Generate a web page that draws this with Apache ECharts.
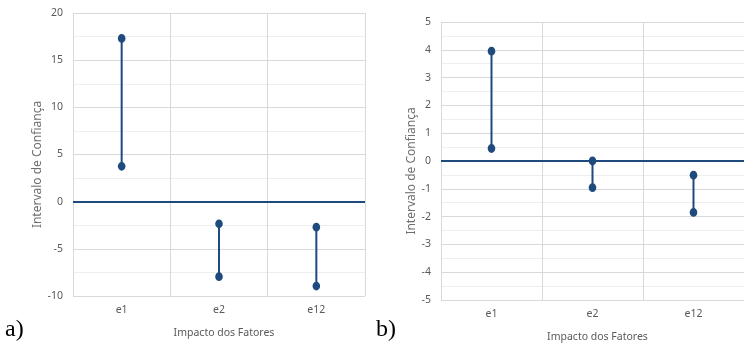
<!DOCTYPE html>
<html>
<head>
<meta charset="utf-8">
<script src="https://cdn.jsdelivr.net/npm/echarts@6/dist/echarts.min.js"></script>
<style>
  html, body { margin: 0; padding: 0; background: #fff; }
  #chart { width: 744px; height: 348px; }
</style>
</head>
<body>
<div id="chart"></div>
<script>
// categorias (fatores)
var categories = ['e1', 'e2', 'e12']
// intervalo de confiança - gráfico a)
var lowA = [3.75, -7.95, -8.95]
var highA = [17.3, -2.35, -2.7]
// intervalo de confiança - gráfico b)
var lowB = [0.45, -0.96, -1.85]
var highB = [3.95, 0.0, -0.51]

var blue = '#1F4A7E'
var labelColor = '#595959'
var font = 'Noto Sans'

function rangeData(low, high) {
  return low.map(function (v, i) { return [i, v, high[i]] })
}

function renderRange(params, api) {
  var lo = api.coord([api.value(0), api.value(1)])
  var hi = api.coord([api.value(0), api.value(2)])
  return {
    type: 'group',
    children: [
      { type: 'line', shape: { x1: lo[0], y1: lo[1], x2: hi[0], y2: hi[1] }, style: { stroke: blue, lineWidth: 2 } },
      { type: 'ellipse', shape: { cx: lo[0], cy: lo[1], rx: 3.8, ry: 4.4 }, style: { fill: blue } },
      { type: 'ellipse', shape: { cx: hi[0], cy: hi[1], rx: 3.8, ry: 4.4 }, style: { fill: blue } }
    ]
  }
}

function xAxisOf(idx) {
  return {
    type: 'category',
    gridIndex: idx,
    data: categories,
    boundaryGap: true,
    name: 'Impacto dos Fatores',
    nameLocation: 'middle',
    nameGap: 32,
    nameTextStyle: { color: labelColor, fontFamily: font, fontSize: 10.5, padding: [0, 0, 0, 10] },
    axisLine: { show: false, onZero: false },
    axisTick: { show: false },
    axisLabel: { color: labelColor, fontFamily: font, fontSize: 10.5, margin: 9 },
    splitLine: { show: true, lineStyle: { color: '#d9d9d9', width: 1 } }
  }
}

function yAxisOf(idx, min, max, interval, gap) {
  return {
    type: 'value',
    gridIndex: idx,
    min: min,
    max: max,
    interval: interval,
    name: 'Intervalo de Confiança',
    nameLocation: 'middle',
    nameGap: gap,
    nameTextStyle: { color: '#6f6f6f', fontFamily: font, fontSize: 12, padding: [0, 20, 0, 0] },
    axisLine: { show: false },
    axisTick: { show: false },
    axisLabel: { color: labelColor, fontFamily: font, fontSize: 10.5, margin: 10 },
    splitLine: { show: true, lineStyle: { color: '#d9d9d9', width: 1 } },
    minorTick: { show: false, splitNumber: 2 },
    minorSplitLine: { show: true, lineStyle: { color: '#eeeeee', width: 1 } }
  }
}

function zeroLine() {
  return {
    silent: true,
    symbol: ['none', 'none'],
    label: { show: false },
    lineStyle: { color: blue, width: 2, type: 'solid' },
    data: [{ yAxis: 0 }]
  }
}

var chart = echarts.init(document.getElementById('chart'), null, { renderer: 'canvas' })
chart.setOption({
  animation: false,
  grid: [
    { left: 73, width: 292, top: 13, bottom: 52 },
    { left: 441, width: 309, top: 22, bottom: 48 }
  ],
  xAxis: [xAxisOf(0), xAxisOf(1)],
  yAxis: [yAxisOf(0, -10, 20, 5, 27), yAxisOf(1, -5, 5, 1, 23)],
  graphic: [
    { type: 'text', left: 5, top: 318, style: { text: 'a)', font: '24px "Liberation Serif"', fill: '#000' } },
    { type: 'text', left: 376, top: 318, style: { text: 'b)', font: '24px "Liberation Serif"', fill: '#000' } }
  ],
  series: [
    {
      type: 'custom',
      xAxisIndex: 0,
      yAxisIndex: 0,
      renderItem: renderRange,
      encode: { x: 0, y: [1, 2] },
      data: rangeData(lowA, highA),
      markLine: zeroLine(),
      z: 3
    },
    {
      type: 'custom',
      xAxisIndex: 1,
      yAxisIndex: 1,
      renderItem: renderRange,
      encode: { x: 0, y: [1, 2] },
      data: rangeData(lowB, highB),
      markLine: zeroLine(),
      z: 3
    }
  ]
})
</script>
</body>
</html>
